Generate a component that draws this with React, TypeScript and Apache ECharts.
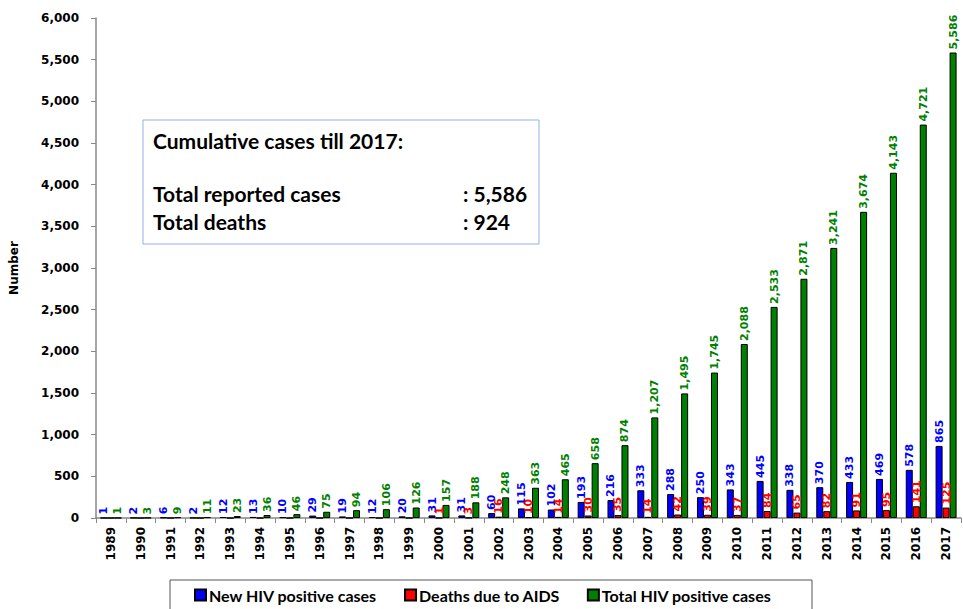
import React, { useEffect, useRef } from "react";
import * as echarts from "echarts";

const years = [
  "1989", "1990", "1991", "1992", "1993", "1994", "1995", "1996", "1997", "1998",
  "1999", "2000", "2001", "2002", "2003", "2004", "2005", "2006", "2007", "2008",
  "2009", "2010", "2011", "2012", "2013", "2014", "2015", "2016", "2017",
];
const newCases = [
  1, 2, 6, 2, 12, 13, 10, 29, 19, 12,
  20, 31, 31, 60, 115, 102, 193, 216, 333, 288,
  250, 343, 445, 338, 370, 433, 469, 578, 865,
];
const deaths = [
  0, 0, 0, 0, 0, 0, 0, 0, 0, 0,
  0, 1, 3, 16, 10, 14, 30, 35, 14, 42,
  39, 37, 84, 65, 82, 91, 95, 141, 125,
];
const totalCases = [
  1, 3, 9, 11, 23, 36, 46, 75, 94, 106,
  126, 157, 188, 248, 363, 465, 658, 874, 1207, 1495,
  1745, 2088, 2533, 2871, 3241, 3674, 4143, 4721, 5586,
];
const seriesNames = ["New HIV positive cases", "Deaths due to AIDS", "Total HIV positive cases"];
const boxTitle = "Cumulative cases till 2017:";
const boxRows = [
  ["Total reported cases", ": 5,586"],
  ["Total deaths", ": 924"],
];

const fmt = (v: number) => v.toLocaleString("en-US");

export default function App() {
  const ref = useRef<HTMLDivElement>(null);
  useEffect(() => {
    if (!ref.current) return;
    const chart = echarts.init(ref.current, null, { renderer: "svg" });
    const labelFont = "DejaVu Sans";
    const mkSeries = (name: string, data: number[], color: string, labelColor: string) => ({
      name,
      type: "bar",
      data,
      barWidth: 7,
      barGap: "0%",
      itemStyle: { color, borderColor: "#000", borderWidth: 1 },
      label: {
        show: true,
        position: "top",
        rotate: 90,
        align: "left",
        verticalAlign: "middle",
        distance: 3,
        color: labelColor,
        fontFamily: labelFont,
        fontWeight: "bold",
        fontSize: 11,
        formatter: (p: any) => (p.value ? fmt(p.value) : ""),
      },
    });
    const boxFont = "bold 21px Lato";
    chart.setOption({
      animation: false,
      grid: { left: 91, right: 2, top: 18, bottom: 91, containLabel: false },
      xAxis: {
        type: "category",
        data: years,
        axisLine: { lineStyle: { color: "#888", width: 1.5 } },
        axisTick: { show: true, length: 5, lineStyle: { color: "#888" } },
        axisLabel: {
          rotate: 90,
          margin: 9,
          color: "#000",
          fontFamily: labelFont,
          fontWeight: "bold",
          fontSize: 12,
        },
      },
      yAxis: {
        type: "value",
        min: 0,
        max: 6000,
        interval: 500,
        name: "Number",
        nameLocation: "middle",
        nameGap: 76,
        nameTextStyle: { color: "#000", fontFamily: labelFont, fontWeight: "bold", fontSize: 12 },
        splitLine: { show: false },
        axisLine: { show: true, lineStyle: { color: "#888", width: 1.5 } },
        axisTick: { show: true, length: 5, lineStyle: { color: "#888" } },
        axisLabel: {
          margin: 17,
          color: "#000",
          fontFamily: labelFont,
          fontWeight: "bold",
          fontSize: 12,
          formatter: (v: number) => fmt(v),
        },
      },
      legend: {
        left: 189,
        top: 584,
        padding: [3, 5, 3, 5],
        itemWidth: 11,
        itemHeight: 11,
        itemGap: 27,
        icon: "rect",
        data: seriesNames,
        textStyle: { color: "#000", fontFamily: "Lato", fontWeight: "bold", fontSize: 16, padding: [0, 0, 0, -2] },
      },
      graphic: [
        {
          type: "rect",
          shape: { x: 170, y: 580, width: 642, height: 40 },
          style: { fill: "#fff", stroke: "#555", lineWidth: 1 },
          z: 0,
        },
        {
          type: "rect",
          shape: { x: 143, y: 120, width: 396, height: 124 },
          style: { fill: "#fff", stroke: "#8db3e2", lineWidth: 1 },
          z: 10,
        },
        {
          type: "text",
          x: 153,
          y: 140,
          style: { text: boxTitle, font: boxFont, fill: "#000", textVerticalAlign: "middle" },
          z: 11,
        },
        ...boxRows.flatMap((r, i) => [
          {
            type: "text",
            x: 153,
            y: 193 + i * 28,
            style: { text: r[0], font: boxFont, fill: "#000", textVerticalAlign: "middle" },
            z: 11,
          },
          {
            type: "text",
            x: 463,
            y: 193 + i * 28,
            style: { text: r[1], font: boxFont, fill: "#000", textVerticalAlign: "middle" },
            z: 11,
          },
        ]),
      ],
      series: [
        mkSeries(seriesNames[0], newCases, "#0000FF", "#0000FF"),
        mkSeries(seriesNames[1], deaths, "#FF0000", "#FF0000"),
        mkSeries(seriesNames[2], totalCases, "#008000", "#008000"),
      ],
    });
    return () => chart.dispose();
  }, []);
  return <div ref={ref} style={{ width: 963, height: 609, position: "absolute", left: 0, top: 0 }} />;
}
